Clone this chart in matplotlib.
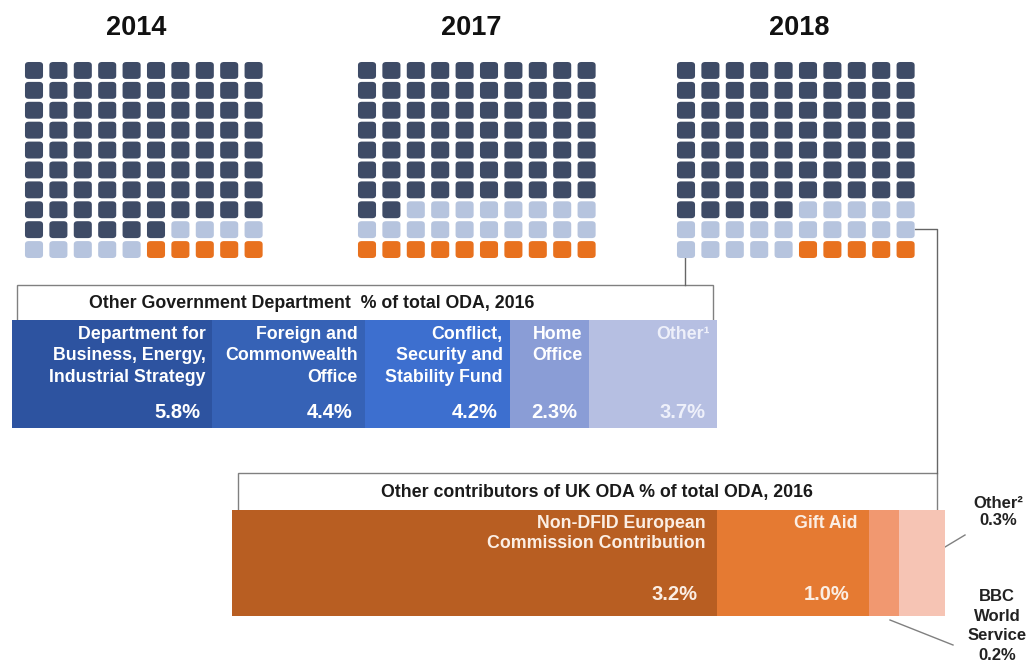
import matplotlib.pyplot as plt
from matplotlib.patches import FancyBboxPatch, Rectangle
import numpy as np

plt.rcParams['font.family'] = ['Liberation Sans', 'DejaVu Sans']

# waffle squares (out of 100) for each year
years = ['2014', '2017', '2018']
dfid_sq = [86, 72, 75]
ogd_sq = [9, 18, 20]
other_sq = [5, 10, 5]

# other government departments, % of total ODA 2016
ogd_names = ['Department for\nBusiness, Energy,\nIndustrial Strategy',
             'Foreign and\nCommonwealth\nOffice',
             'Conflict,\nSecurity and\nStability Fund',
             'Home\nOffice', 'Other\u00b9']
ogd_pct = [5.8, 4.4, 4.2, 2.3, 3.7]

# other contributors of UK ODA, % of total ODA 2016
oc_names = ['Non-DFID European\nCommission Contribution', 'Gift Aid',
            'BBC\nWorld\nService', 'Other\u00b2']
oc_pct = [3.2, 1.0, 0.2, 0.3]

dark = '#3e4b66'
light = '#b6c4de'
orange = '#e8711e'
ogd_cols = ['#2d53a0', '#3662b6', '#3d6fcf', '#8a9dd6', '#b6bfe2']
oc_cols = ['#b85e22', '#e57a32', '#f19870', '#f6c4b4']

W, H = 1027, 666
fig = plt.figure(figsize=(W / 100, H / 100), dpi=100)


def px_axes(x, y, w, h):
    return fig.add_axes([x / W, 1 - (y + h) / H, w / W, h / H])


bg = px_axes(0, 0, W, H)
bg.set_xlim(0, W)
bg.set_ylim(H, 0)
bg.axis('off')

# waffles
grid_x = [25, 358, 677]
title_x = [136, 471, 799]
for k in range(len(years)):
    ax = px_axes(grid_x[k] - 3.2, 60.5, 244, 199)
    ax.set_xlim(0, 10)
    ax.set_ylim(10, 0)
    ax.axis('off')
    cells = [dark] * dfid_sq[k] + [light] * ogd_sq[k] + [orange] * other_sq[k]
    for n, c in enumerate(cells):
        r, cc = divmod(n, 10)
        ax.add_patch(FancyBboxPatch((cc + 0.13, r + 0.075), 0.74, 0.85,
                                    boxstyle='round,pad=0,rounding_size=0.16',
                                    fc=c, ec='none'))
    bg.text(title_x[k], 28, years[k], ha='center', va='center',
            fontsize=19.5, fontweight='bold', color='#111111')

# header boxes and connectors
bg.add_patch(Rectangle((17, 285), 696, 40, fc='white', ec='#808080', lw=1))
bg.text(312, 303, 'Other Government Department  % of total ODA, 2016',
        ha='center', va='center', fontsize=12.8, fontweight='bold', color='#1a1a1a')
bg.plot([685, 685], [258, 285], color='#666666', lw=1)

bg.add_patch(Rectangle((238, 473), 699, 40, fc='white', ec='#808080', lw=1))
bg.text(597, 492, 'Other contributors of UK ODA % of total ODA, 2016',
        ha='center', va='center', fontsize=12.8, fontweight='bold', color='#1a1a1a')
bg.plot([915, 937, 937], [229, 229, 473], color='#666666', lw=1)

# OGD bar
ax1 = px_axes(12, 320, 705, 108)
left = np.concatenate([[0], np.cumsum(ogd_pct)[:-1]])
ax1.barh(0, ogd_pct, left=left, height=1, color=ogd_cols)
ax1.set_xlim(0, sum(ogd_pct))
ax1.set_ylim(-0.5, 0.5)
ax1.axis('off')
for i in range(len(ogd_pct)):
    right = left[i] + ogd_pct[i]
    tc = 'white' if i < 4 else '#eef0fa'
    ax1.annotate(ogd_names[i], xy=(right, 1), xycoords=('data', 'axes fraction'),
                 xytext=(-7, -6), textcoords='offset pixels', ha='right', va='top',
                 fontsize=12.8, fontweight='bold', color=tc, linespacing=1.33)
    ax1.annotate('%.1f%%' % ogd_pct[i], xy=(right, 0), xycoords=('data', 'axes fraction'),
                 xytext=(-12, 16), textcoords='offset pixels', ha='right', va='center',
                 fontsize=14.5, fontweight='bold', color=tc)

# other contributors bar
ax2 = px_axes(232, 510, 713, 106)
left2 = np.concatenate([[0], np.cumsum(oc_pct)[:-1]])
ax2.barh(0, oc_pct, left=left2, height=1, color=oc_cols)
ax2.set_xlim(0, sum(oc_pct))
ax2.set_ylim(-0.5, 0.5)
ax2.axis('off')
for i in range(2):
    right = left2[i] + oc_pct[i]
    ax2.annotate(oc_names[i], xy=(right, 1), xycoords=('data', 'axes fraction'),
                 xytext=(-12, -5), textcoords='offset pixels', ha='right', va='top',
                 fontsize=12.8, fontweight='bold', color='#fbeee4', linespacing=1.22)
    ax2.annotate('%.1f%%' % oc_pct[i], xy=(right, 0), xycoords=('data', 'axes fraction'),
                 xytext=(-20, 21), textcoords='offset pixels', ha='right', va='center',
                 fontsize=14.5, fontweight='bold', color='#fbeee4')

# small segments labelled outside
bg.text(998, 512, oc_names[3] + '\n%.1f%%' % oc_pct[3], ha='center', va='center',
        fontsize=12, fontweight='bold', color='#222222', linespacing=1.2)
bg.plot([945, 965], [547, 535], color='#808080', lw=1)
bg.text(997, 626, oc_names[2] + '\n%.1f%%' % oc_pct[2], ha='center', va='center',
        fontsize=12, fontweight='bold', color='#222222', linespacing=1.38)
bg.plot([890, 953], [620, 645], color='#808080', lw=1)

fig.savefig('out.png', dpi=100)
